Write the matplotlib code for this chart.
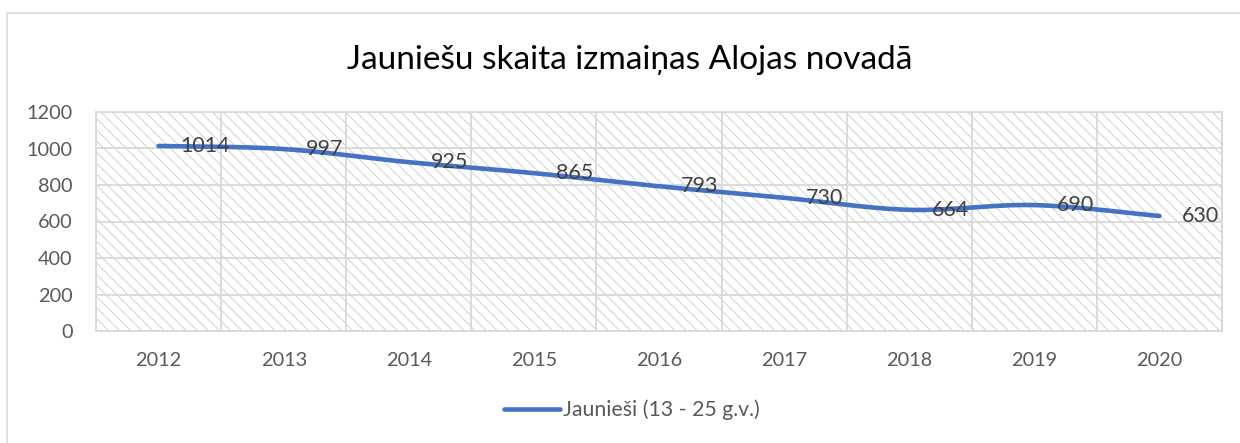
import numpy as np
import matplotlib.pyplot as plt
from matplotlib.patches import Rectangle

years = ["2012", "2013", "2014", "2015", "2016", "2017", "2018", "2019", "2020"]
jaunies = [1014, 997, 925, 865, 793, 730, 664, 690, 630]
series_name = "Jaunieši (13 - 25 g.v.)"
title = "Jauniešu skaita izmaiņas Alojas novadā"

plt.rcParams['font.family'] = ['Lato', 'DejaVu Sans']
plt.rcParams['hatch.linewidth'] = 0.8
plt.rcParams['hatch.color'] = '#d6d6d6'

grid_c = '#d9d9d9'
text_c = '#595959'
line_c = '#4472C4'


def smooth(x, y, n=30):
    # Excel-style smoothed line: cubic Bezier with Catmull-Rom control points
    p = np.column_stack([x, y]).astype(float)
    pp = np.vstack([p[0], p, p[-1]])
    out = []
    t = np.linspace(0, 1, n)[:, None]
    for i in range(len(p) - 1):
        p0, p3 = pp[i + 1], pp[i + 2]
        c1 = p0 + (pp[i + 2] - pp[i]) / 6
        c2 = p3 - (pp[i + 3] - pp[i + 1]) / 6
        seg = ((1 - t) ** 3 * p0 + 3 * (1 - t) ** 2 * t * c1
               + 3 * (1 - t) * t ** 2 * c2 + t ** 3 * p3)
        out.append(seg if i == 0 else seg[1:])
    out = np.vstack(out)
    return out[:, 0], out[:, 1]


fig = plt.figure(figsize=(12.4, 4.43), dpi=100)
# outer chart border
fig.patches.append(Rectangle((7 / 1240, -0.1), 1.2, (443 - 13) / 443 + 0.1,
                             transform=fig.transFigure, fill=False,
                             edgecolor=grid_c, linewidth=1.2))

ax = fig.add_axes([96 / 1240, 1 - 331 / 443, (1222 - 96) / 1240, (331 - 112) / 443])
x = np.arange(len(years))
ax.set_xlim(-0.5, len(years) - 0.5)
ax.set_ylim(0, 1200)

ax.add_patch(Rectangle((0, 0), 1, 1, transform=ax.transAxes, facecolor='white',
                       hatch='\\\\\\', edgecolor='#d6d6d6', linewidth=0, zorder=0))

ax.set_yticks(np.arange(0, 1201, 200))
ax.set_xticks(x)
ax.set_xticklabels(years)
ax.set_xticks(np.arange(-0.5, len(years), 1), minor=True)
ax.grid(axis='y', which='major', color=grid_c, linewidth=1.3, zorder=1)
ax.grid(axis='x', which='minor', color=grid_c, linewidth=1.3, zorder=1)
ax.tick_params(which='both', length=0, labelsize=14.3, colors=text_c)
ax.tick_params(axis='x', pad=15)
ax.tick_params(axis='y', pad=17)
for s in ax.spines.values():
    s.set_color(grid_c)
    s.set_linewidth(1.3)

sx, sy = smooth(x, jaunies)
ax.plot(sx, sy, color=line_c, linewidth=3.3, solid_capstyle='round',
        label=series_name, zorder=3)

for xi, v in zip(x, jaunies):
    ax.annotate(str(v), (xi, v), xytext=(16, 0), textcoords='offset points',
                ha='left', va='center', fontsize=15.5, color='#404040', zorder=4)

fig.text(630 / 1240, 1 - 60 / 443, title, ha='center', va='center', fontsize=24,
         color='black')

leg = fig.legend(loc='center', bbox_to_anchor=(632 / 1240, 1 - 410 / 443),
                 frameon=False, fontsize=15.3, handlelength=2.6,
                 handletextpad=0.15)
for t in leg.get_texts():
    t.set_color(text_c)

fig.savefig("out.png", dpi=100)
